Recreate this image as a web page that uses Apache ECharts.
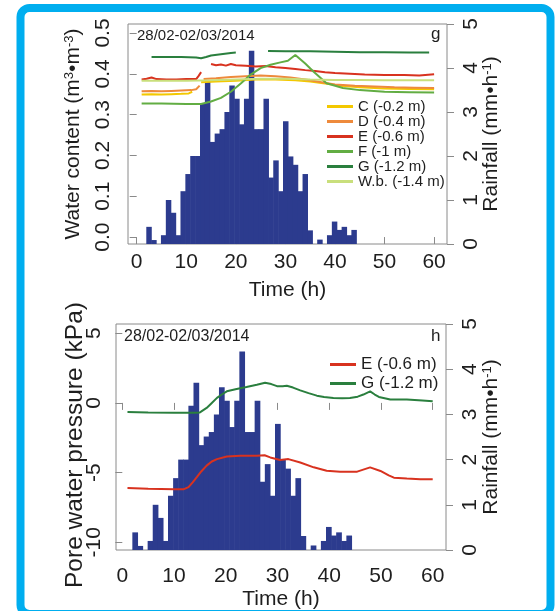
<!DOCTYPE html>
<html><head><meta charset="utf-8">
<script src="https://cdn.jsdelivr.net/npm/echarts@6/dist/echarts.min.js"></script>
<style>html,body{margin:0;padding:0;background:#fff}#c{width:555px;height:611px}</style>
</head><body><div id="c"></div>
<script>
// ---------- DATA ----------
const xTicks = [0, 10, 20, 30, 40, 50, 60];
const wcTicks = [0, 0.1, 0.2, 0.3, 0.4, 0.5];
const pwpTicks = [-10, -5, 0, 5];
const rainTicks = [0, 1, 2, 3, 4, 5];

// hourly rainfall (mm/h), hour index
const rainHour = [2,3,4,5,6,7,8,9,10,11,12,13,14,15,16,17,18,19,20,21,22,23,24,25,26,27,28,29,30,31,32,33,34,35,36,37,38,39,40,41,42,43,44];
const rainVal  = [0.39,0.09,0,0.2,1.0,0.71,0.2,1.2,1.59,2.0,2.0,3.19,3.7,2.32,2.51,2.61,3.0,3.6,3.3,2.72,3.3,4.39,2.61,2.61,3.3,1.51,1.9,1.2,2.79,1.99,1.8,1.2,1.59,0.31,0,0.1,0,0.2,0.51,0.32,0.39,0.2,0.32];

// top: water content (m3/m3)
const cTime = [1,3,5,7,9,10.5,11.2,12,13,16,20,24,28,32,35,38,41,45,50,55,60];
const cVal  = [0.349,0.350,0.349,0.350,0.351,0.352,0.356,null,0.379,0.381,0.383,0.386,0.386,0.384,0.381,0.376,0.371,0.367,0.364,0.363,0.362];
const dTime = [1,3,5,7,9,11,12,12.7,13.1,13.5,16,19,22,25,28,31,34,37,40,44,48,52,56,60];
const dVal  = [0.357,0.358,0.357,0.358,0.359,0.360,0.362,0.371,null,0.387,0.389,0.392,0.394,0.396,0.394,0.391,0.386,0.380,0.374,0.371,0.369,0.367,0.366,0.365];
const eTime = [1,2,3,4,6,8,10,12,12.5,13,14,15,16,17,18,19,20,22,24,26,28,30,32,34,36,38,40,43,46,50,54,57,60];
const eVal  = [0.386,0.388,0.391,0.387,0.386,0.386,0.387,0.387,0.395,0.404,null,0.424,0.421,0.423,0.420,0.424,0.421,0.420,0.418,0.419,0.416,0.414,0.412,0.409,0.407,0.404,0.402,0.400,0.398,0.397,0.397,0.396,0.399];
const fTime = [1,5,10,13,15,17,19,21,23,25,27,29,30.5,32,34,35.7,38.3,41.6,45,50,55,60];
const fVal  = [0.327,0.327,0.326,0.326,0.332,0.341,0.356,0.376,0.398,0.414,0.422,0.428,0.432,0.446,0.425,0.405,0.377,0.365,0.360,0.356,0.355,0.354];
const gTime = [3,6,9,12,13,14,15,17,19,20,23,26.5,30,35,40,45,50,55,59];
const gVal  = [0.441,0.441,0.441,0.440,0.438,0.441,0.445,0.448,0.451,0.452,null,0.456,0.455,0.455,0.454,0.453,0.453,0.452,0.452];
const wbTime = [1,5,10,15,20,25,30,35,40,45,50,55,60];
const wbVal  = [0.383,0.383,0.383,0.384,0.386,0.388,0.388,0.386,0.385,0.385,0.384,0.384,0.384];

// bottom: pore water pressure (kPa)
const peTime = [1,5,10,11.8,12.8,13.6,14.4,15.3,16.3,17.3,18.3,20.2,22.8,26,27.5,28.6,30.5,32.1,34.4,37,39.5,42.1,45.4,47.9,49.9,51.5,52.5,55,57.6,60];
const peVal  = [-6.11,-6.16,-6.2,-6.2,-6.04,-5.7,-5.33,-4.9,-4.5,-4.2,-4.03,-3.84,-3.79,-3.79,-3.75,-3.91,-4.1,-4.03,-4.27,-4.62,-4.86,-4.93,-4.93,-4.62,-4.88,-5.2,-5.36,-5.43,-5.48,-5.48];
const pgTime = [1,5,10,14,15,16.3,17.3,18.3,19.3,20.2,22.1,24,26,27.6,28.8,29.9,31,31.8,33,34.4,36,37.6,39,40.8,42.5,44,45.5,46.6,47.9,48.8,49.6,51.8,55,58,60];
const pgVal  = [-0.65,-0.68,-0.70,-0.71,-0.68,-0.36,0.0,0.36,0.62,0.83,1.0,1.14,1.3,1.45,1.35,1.2,1.2,1.23,1.1,0.9,0.7,0.52,0.42,0.36,0.33,0.36,0.45,0.6,0.83,0.6,0.43,0.24,0.24,0.17,0.12];

// ---------- STYLE ----------
const FONT = 'Liberation Sans, Arial, sans-serif';
const TXT = '#1e1e1e';
const GRAY = '#8a8a8a';
const BAR = '#2c3b8e';
const RAIN_STEP = 0.985, RAIN_OFF = -0.03; // measured bin length / offset on the time axis
const COL = {C:'#f3c800', D:'#ee8a3c', E:'#d8321f', F:'#62ad43', G:'#2a7f3e', W:'#c9df7c'};

function pairs(t, v){ return t.map((x,i)=>[x, v[i]]); }
const rainData = rainHour.map((h,i)=>[h, rainVal[i]]);

function rainRender(params, api){
  const h = api.value(0), r = api.value(1);
  if (!r) return null;
  const p0 = api.coord([h*RAIN_STEP + RAIN_OFF, r]);
  const p1 = api.coord([(h+1)*RAIN_STEP + RAIN_OFF, 0]);
  return {type:'rect', shape:{x:p0[0], y:p0[1], width:p1[0]-p0[0]+0.6, height:p1[1]-p0[1]}, style:{fill:BAR}};
}

function xAx(grid, min, max, lblMargin, nameGap){
  return {type:'value', gridIndex:grid, min:min, max:max,
    axisLine:{show:false}, splitLine:{show:false},
    axisTick:{show:true, length:7, customValues:xTicks, lineStyle:{color:GRAY, width:1}},
    axisLabel:{customValues:xTicks, fontSize:21, fontFamily:FONT, color:TXT, margin:lblMargin},
    name:'Time (h)', nameLocation:'middle', nameGap:nameGap, nameMoveOverlap:false,
    nameTextStyle:{fontSize:21, fontFamily:FONT, color:TXT}};
}
const nameRich = {
  a:{fontSize:21, fontFamily:FONT, color:TXT},
  s:{fontSize:13, fontFamily:FONT, color:TXT, verticalAlign:'top', padding:[0,0,8,0]}
};

const series = [
  {type:'custom', name:'rain1', xAxisIndex:0, yAxisIndex:1, renderItem:rainRender, data:rainData, encode:{x:0,y:1}, z:1, silent:true},
  {type:'custom', name:'rain2', xAxisIndex:1, yAxisIndex:3, renderItem:rainRender, data:rainData, encode:{x:0,y:1}, z:1, silent:true}
];
function line(name, t, v, color, xi, yi){
  series.push({type:'line', name:name, xAxisIndex:xi, yAxisIndex:yi, data:pairs(t,v), showSymbol:false, symbol:'none',
    connectNulls:false, lineStyle:{color:color, width:2}, itemStyle:{color:color}, z:3});
}
line('C (-0.2 m)', cTime, cVal, COL.C, 0, 0);
line('D (-0.4 m)', dTime, dVal, COL.D, 0, 0);
line('E (-0.6 m)', eTime, eVal, COL.E, 0, 0);
line('F (-1 m)', fTime, fVal, COL.F, 0, 0);
line('G (-1.2 m)', gTime, gVal, COL.G, 0, 0);
line('W.b. (-1.4 m)', wbTime, wbVal, COL.W, 0, 0);
line('E (-0.6 m)', peTime, peVal, COL.E, 1, 2);
line('G (-1.2 m)', pgTime, pgVal, COL.G, 1, 2);

const option = {
  animation:false,
  backgroundColor:'#fff',
  textStyle:{fontFamily:FONT},
  grid:[
    {left:128, top:24, width:319, height:220, show:true, borderColor:GRAY, borderWidth:1, backgroundColor:'transparent'},
    {left:116, top:324, width:330, height:228, show:true, borderColor:GRAY, borderWidth:1, backgroundColor:'transparent'}
  ],
  xAxis:[ xAx(0, -1.75, 62.6, 8, 36), xAx(1, -1.22, 62.57, 16, 39) ],
  yAxis:[
    {type:'value', gridIndex:0, position:'left', min:-0.017, max:0.522,
     axisLine:{show:false}, splitLine:{show:false},
     axisTick:{show:true, length:7, customValues:wcTicks, lineStyle:{color:GRAY}},
     axisLabel:{customValues:wcTicks, rotate:90, fontSize:21, fontFamily:FONT, color:TXT, margin:14, formatter:v=>v.toFixed(1)},
     name:'{a|Water content (m}{s|3}{a|•m}{s|-3}{a|)}', nameLocation:'middle', nameGap:44, nameMoveOverlap:false, nameTextStyle:{rich:nameRich}},
    {type:'value', gridIndex:0, position:'right', min:0, max:5, interval:1,
     axisLine:{show:false}, splitLine:{show:false},
     axisTick:{show:true, length:7, lineStyle:{color:GRAY}},
     axisLabel:{rotate:90, fontSize:21, fontFamily:FONT, color:TXT, margin:14},
     name:'{a|Rainfall (mm•h}{s|-1}{a|)}', nameLocation:'middle', nameGap:34, nameMoveOverlap:false, nameTextStyle:{rich:nameRich}},
    {type:'value', gridIndex:1, position:'left', min:-10.55, max:5.66,
     axisLine:{show:false}, splitLine:{show:false},
     axisTick:{show:true, length:7, customValues:pwpTicks, lineStyle:{color:GRAY}},
     axisLabel:{customValues:pwpTicks, rotate:90, fontSize:21, fontFamily:FONT, color:TXT, margin:11},
     name:'Pore water pressure (kPa)', nameLocation:'middle', nameGap:28, nameMoveOverlap:false,
     nameTextStyle:{fontSize:24.5, fontFamily:FONT, color:TXT, padding:[0,16,0,0]}},
    {type:'value', gridIndex:1, position:'right', min:0, max:5, interval:1,
     axisLine:{show:false}, splitLine:{show:false},
     axisTick:{show:true, length:7, lineStyle:{color:GRAY}},
     axisLabel:{rotate:90, fontSize:21, fontFamily:FONT, color:TXT, margin:14},
     name:'{a|Rainfall (mm•h}{s|-1}{a|)}', nameLocation:'middle', nameGap:35, nameMoveOverlap:false, nameTextStyle:{rich:nameRich}}
  ],
  legend:[
    {data:['C (-0.2 m)','D (-0.4 m)','E (-0.6 m)','F (-1 m)','G (-1.2 m)','W.b. (-1.4 m)'],
     orient:'vertical', left:327, top:99, itemWidth:26, itemHeight:3, itemGap:0, icon:'rect', padding:0, selectedMode:false,
     textStyle:{fontSize:15, lineHeight:14, color:TXT, fontFamily:FONT}},
    {data:['E (-0.6 m)','G (-1.2 m)'],
     orient:'vertical', left:330, top:355, itemWidth:26, itemHeight:3, itemGap:0, icon:'rect', padding:0, selectedMode:false,
     textStyle:{fontSize:17, lineHeight:19, color:TXT, fontFamily:FONT}}
  ],
  graphic:[
    {type:'rect', shape:{x:20.5, y:8, width:530, height:606, r:9}, style:{fill:'none', stroke:'#00aeef', lineWidth:8}, z:100, silent:true},
    {type:'text', left:137, top:28, style:{text:'28/02-02/03/2014', font:'15px '+FONT, fill:TXT}, z:50},
    {type:'text', left:431, top:26, style:{text:'g', font:'17px '+FONT, fill:TXT}, z:50},
    {type:'text', left:124, top:329, style:{text:'28/02-02/03/2014', font:'16px '+FONT, fill:TXT}, z:50},
    {type:'text', left:431, top:328, style:{text:'h', font:'17px '+FONT, fill:TXT}, z:50}
  ],
  series:series
};
const chart = echarts.init(document.getElementById('c'));
chart.setOption(option);
</script></body></html>
